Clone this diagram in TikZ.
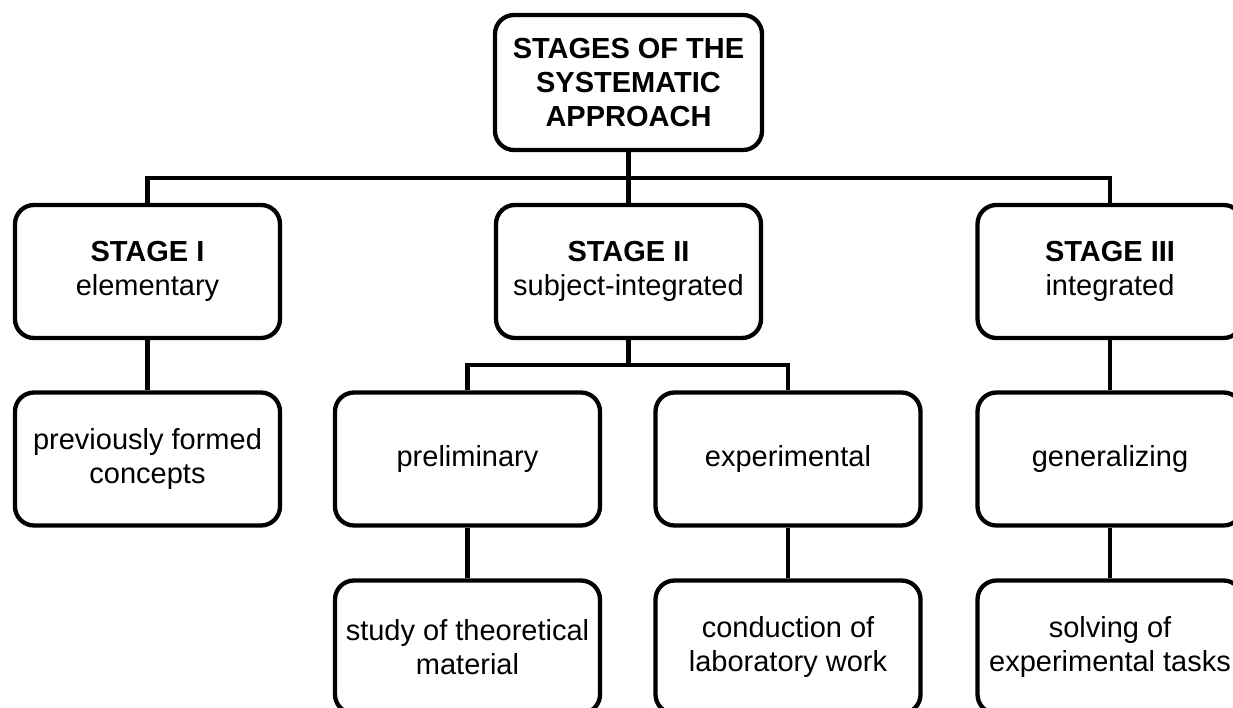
\documentclass[tikz,border=0pt]{standalone}
\usepackage{fontspec}
\setmainfont{Liberation Sans}
\begin{document}
\begin{tikzpicture}[x=1pt,y=-1pt,
  box/.style={draw=black,line width=4.3pt,rounded corners=19pt,fill=white,
    minimum width=265pt,minimum height=133pt,align=center,inner sep=2pt,
    font=\fontsize{29}{34}\selectfont},
  conn/.style={draw=black,line width=4.3pt}]
\useasboundingbox (0,0) rectangle (1233,708);
\clip (0,0) rectangle (1233,708);
% top
\node[box,minimum width=267pt,minimum height=135pt] (top) at (628.5,82.5) {\textbf{STAGES OF THE}\\\textbf{SYSTEMATIC}\\\textbf{APPROACH}};
% stages
\node[box] (s1) at (147.5,271.5) {\textbf{STAGE I}\\elementary};
\node[box] (s2) at (628.5,271.5) {\textbf{STAGE II}\\subject-integrated};
\node[box] (s3) at (1110,271.5) {\textbf{STAGE III}\\integrated};
% second row
\node[box] (pf) at (147.5,459) {previously formed\\concepts};
\node[box] (pre) at (467.5,459) {preliminary};
\node[box] (exp) at (788,459) {experimental};
\node[box] (gen) at (1110,459) {generalizing};
% third row
\node[box] (stu) at (467.5,647) {study of theoretical\\material};
\node[box] (con) at (788,647) {conduction of\\laboratory work};
\node[box] (sol) at (1110,647) {solving of\\experimental tasks};
% buses
\coordinate (bus) at (628.5,178);
\coordinate (sub) at (628.5,365);
\draw[conn] (top.south) -- (s2.north);
\draw[conn] (s1.north) |- (bus) -| (s3.north);
\draw[conn] (s2.south) -- (sub);
\draw[conn] (pre.north) |- (sub) -| (exp.north);
\draw[conn] (s1.south) -- (pf.north);
\draw[conn] (s3.south) -- (gen.north);
\draw[conn] (pre.south) -- (stu.north);
\draw[conn] (exp.south) -- (con.north);
\draw[conn] (gen.south) -- (sol.north);
\end{tikzpicture}
\end{document}
